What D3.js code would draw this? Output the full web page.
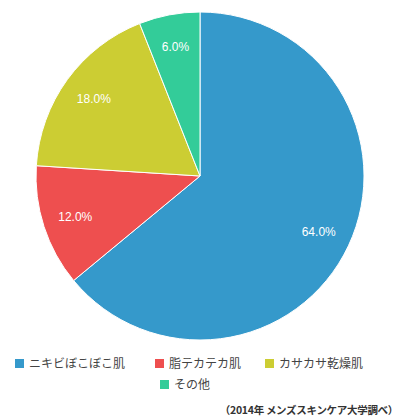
<!DOCTYPE html>
<html><head><meta charset="utf-8">
<script src="https://cdn.jsdelivr.net/npm/d3@7"></script>
<style>body{margin:0;background:#fff}svg{display:block}</style>
</head><body>
<svg id="c" width="399" height="420"></svg>
<script>
const categories = ["ニキビぼこぼこ肌", "脂テカテカ肌", "カサカサ乾燥肌", "その他"];
const values = [64.0, 12.0, 18.0, 6.0];
const colors = ["#3599cb", "#ee4f4f", "#cccd33", "#33cc99"];
const source = "（2014年 メンズスキンケア大学調べ）";

const svg = d3.select("#c");
const cx = 200, cy = 176, r = 164;
const g = svg.append("g").attr("transform", `translate(${cx},${cy})`);
const pie = d3.pie().sort(null).value(d => d)(values);
const arc = d3.arc().innerRadius(0).outerRadius(r);
const lab = d3.arc().innerRadius(r * 0.8).outerRadius(r * 0.8);
g.selectAll("path").data(pie).join("path")
  .attr("d", arc).attr("fill", (d, i) => colors[i])
  .attr("stroke", "#fff").attr("stroke-width", 1);
g.selectAll("text").data(pie).join("text")
  .attr("transform", d => `translate(${lab.centroid(d)})`)
  .attr("text-anchor", "middle").attr("dy", "0.35em")
  .attr("font-family", "'Liberation Sans', Arial, sans-serif")
  .attr("font-size", 12).attr("fill", "#fff")
  .text(d => d.data.toFixed(1) + "%");

const legendPos = [[15, 359], [155, 359], [265, 359], [160, 380]];
const lg = svg.append("g");
categories.forEach((c, i) => {
  const [x, y] = legendPos[i];
  lg.append("rect").attr("x", x).attr("y", y).attr("width", 9).attr("height", 9).attr("fill", colors[i]);
  lg.append("text").attr("x", x + 14).attr("y", y + 9)
    .attr("font-family", "'Noto Sans CJK JP', sans-serif").attr("font-size", 12)
    .attr("fill", "#444").text(c);
});
svg.append("text").attr("x", 398).attr("y", 414).attr("text-anchor", "end")
  .attr("font-family", "'Noto Sans CJK JP', sans-serif").attr("font-size", 10.5)
  .attr("font-weight", "bold").attr("letter-spacing", -0.3).attr("fill", "#333").text(source);
</script>
</body></html>
